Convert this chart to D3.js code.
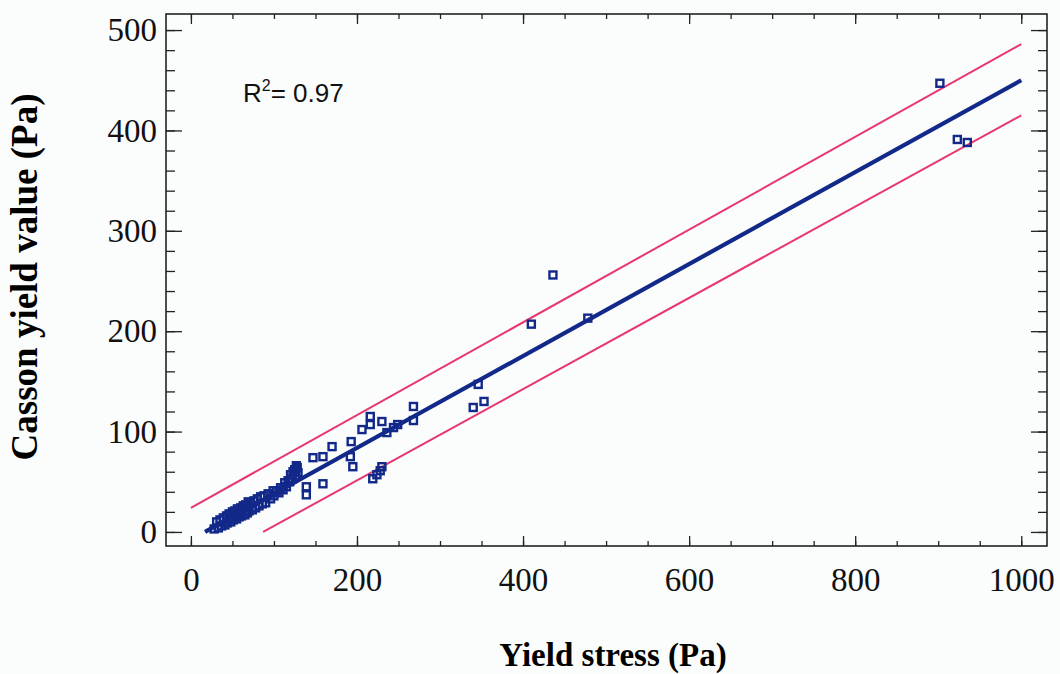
<!DOCTYPE html>
<html>
<head>
    <meta charset="utf-8">
    <script src="https://d3js.org/d3.v7.min.js"></script>
    <style>
        body { margin: 0; background: #fbfcfc; }
        .tick text { font-family: "Liberation Serif", "Times New Roman", serif; font-size: 33px; fill: #111; }
    </style>
</head>
<body>
    <div id="my_dataviz"></div>
    <script>

        // measured points (yield stress, casson yield value)
        var yieldStress = [902, 923, 935, 436, 410, 478, 346, 340, 353, 268, 268, 244, 249, 230, 236, 216, 216, 206, 193, 192, 195, 170, 159, 147, 159, 139, 139, 219, 224, 228, 230,
            28, 31, 33, 35, 37, 39, 41, 43, 44, 46, 48, 50, 51, 53, 55, 56, 58, 60, 61, 63, 65, 66, 68, 69, 70, 72, 74, 76, 78, 80, 82, 84, 86, 88, 90, 93, 96, 99,
            100, 103, 106, 108, 111, 113, 115, 117, 119, 120, 122, 123, 125, 126, 128, 129, 127];
        var cassonValue = [447, 391, 388, 256, 207, 213, 147, 124, 130, 125, 111, 104, 107, 110, 99, 115, 107, 102, 90, 75, 65, 85, 75, 74, 48, 45, 37, 53, 57, 61, 65,
            3, 10, 4, 12, 6, 14, 7, 16, 9, 18, 10, 20, 12, 21, 13, 23, 15, 24, 16, 26, 17, 27, 19, 30, 21, 29, 22, 31, 24, 33, 26, 35, 28, 36, 29, 38, 33, 41,
            36, 41, 39, 44, 42, 49, 45, 51, 50, 57, 53, 60, 62, 56, 64, 59, 66];

        // fitted line and prediction band end points
        var fitLine = [[17, 0], [1000, 450]];
        var upperBand = [[0, 24], [1000, 486]];
        var lowerBand = [[87, 0], [1000, 415]];

        var xTicks = [0, 200, 400, 600, 800, 1000];
        var yTicks = [0, 100, 200, 300, 400, 500];

        var width = 1060, height = 674;
        var plotLeft = 166, plotRight = 1047, plotTop = 14, plotBottom = 546;

        var svg = d3.select("#my_dataviz")
            .append("svg")
            .attr("width", width)
            .attr("height", height);

        var x = d3.scaleLinear().domain([-30, 1031]).range([plotLeft, plotRight]);
        var y = d3.scaleLinear().domain([-14, 516]).range([plotBottom, plotTop]);

        var minorX = d3.range(0, 1001, 50);
        var minorY = d3.range(0, 501, 20);

        // bottom axis with labels
        svg.append("g")
            .attr("transform", "translate(0," + plotBottom + ")")
            .call(d3.axisBottom(x).tickValues(xTicks).tickSize(-10).tickPadding(22).tickFormat(d3.format("d")));
        svg.append("g")
            .attr("transform", "translate(0," + plotBottom + ")")
            .call(d3.axisBottom(x).tickValues(minorX).tickSize(-5).tickFormat(""));
        // top axis
        svg.append("g")
            .attr("transform", "translate(0," + plotTop + ")")
            .call(d3.axisTop(x).tickValues(xTicks).tickSize(-10).tickFormat(""));
        svg.append("g")
            .attr("transform", "translate(0," + plotTop + ")")
            .call(d3.axisTop(x).tickValues(minorX).tickSize(-5).tickFormat(""));

        // left axis with labels
        svg.append("g")
            .attr("transform", "translate(" + plotLeft + ",0)")
            .call(d3.axisLeft(y).tickValues(yTicks).tickSize(-16).tickPadding(9));
        svg.append("g")
            .attr("transform", "translate(" + plotLeft + ",0)")
            .call(d3.axisLeft(y).tickValues(minorY).tickSize(-9).tickFormat(""));
        // right axis
        svg.append("g")
            .attr("transform", "translate(" + plotRight + ",0)")
            .call(d3.axisRight(y).tickValues(yTicks).tickSize(-16).tickFormat(""));
        svg.append("g")
            .attr("transform", "translate(" + plotRight + ",0)")
            .call(d3.axisRight(y).tickValues(minorY).tickSize(-9).tickFormat(""));

        svg.selectAll(".domain").remove();
        svg.selectAll(".tick line").attr("stroke", "#222").attr("stroke-width", 1.3);

        // frame
        svg.append("rect")
            .attr("x", plotLeft).attr("y", plotTop)
            .attr("width", plotRight - plotLeft).attr("height", plotBottom - plotTop)
            .attr("fill", "none").attr("stroke", "#222").attr("stroke-width", 1.6);

        var line = d3.line()
            .x(function (d) { return x(d[0]) })
            .y(function (d) { return y(d[1]) });

        // prediction bands
        [upperBand, lowerBand].forEach(function (band) {
            svg.append("path")
                .datum(band)
                .attr("fill", "none")
                .attr("stroke", "#e8366f")
                .attr("stroke-width", 2)
                .attr("d", line);
        });

        // fitted line
        svg.append("path")
            .datum(fitLine)
            .attr("fill", "none")
            .attr("stroke", "#12298a")
            .attr("stroke-width", 4.2)
            .attr("d", line);

        // points
        var pts = yieldStress.map(function (v, i) { return [v, cassonValue[i]]; });
        svg.append("g").selectAll("rect")
            .data(pts)
            .enter()
            .append("rect")
            .attr("x", function (d) { return x(d[0]) - 3.5 })
            .attr("y", function (d) { return y(d[1]) - 3.5 })
            .attr("width", 7)
            .attr("height", 7)
            .attr("fill", "none")
            .attr("stroke", "#12298a")
            .attr("stroke-width", 2.4);

        // R squared note
        var note = svg.append("text")
            .attr("x", 243)
            .attr("y", 102)
            .attr("font-family", "Liberation Sans, Arial, sans-serif")
            .attr("font-size", 26)
            .attr("fill", "#111");
        note.append("tspan").text("R");
        note.append("tspan").attr("font-size", 16).attr("dy", -11).text("2");
        note.append("tspan").attr("dy", 11).text("= 0.97");

        // axis titles
        svg.append("text")
            .attr("x", 613)
            .attr("y", 666)
            .attr("text-anchor", "middle")
            .attr("font-family", "Liberation Serif, Times New Roman, serif")
            .attr("font-weight", "bold")
            .attr("font-size", 33)
            .text("Yield stress (Pa)");
        svg.append("text")
            .attr("transform", "translate(37,277) rotate(-90)")
            .attr("text-anchor", "middle")
            .attr("font-family", "Liberation Serif, Times New Roman, serif")
            .attr("font-weight", "bold")
            .attr("font-size", 37)
            .text("Casson yield value (Pa)");

    </script>
</body>
</html>
